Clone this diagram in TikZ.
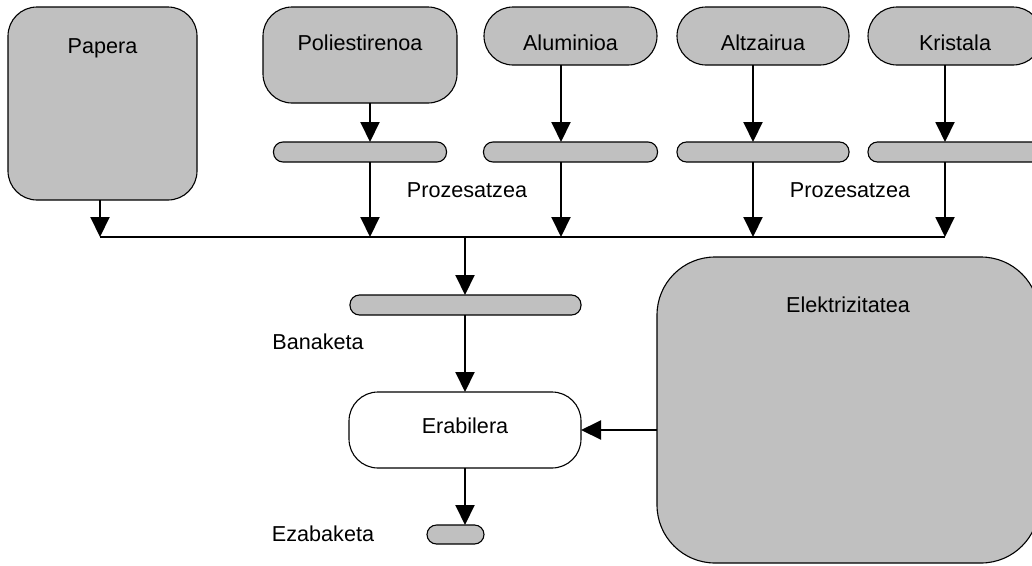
\documentclass[tikz,border=0pt]{standalone}
\usepackage{fontspec}
\setmainfont{Liberation Sans}
\usetikzlibrary{arrows.meta}
\definecolor{boxgray}{RGB}{192,192,192}
\tikzset{
 box/.style={draw,fill=boxgray,line width=1.1pt,rounded corners=29pt,inner sep=0pt,outer sep=0pt},
 bar/.style={box,rounded corners=9.5pt,minimum height=20},
 lbl/.style={anchor=base,yshift=-#1,inner sep=0pt}, lbl/.default=43pt,
 arr/.style={line width=2pt,-{Triangle[length=20pt,width=19pt]}},
 bus/.style={line width=2pt}
}
\begin{document}
\begin{tikzpicture}[x=1pt,y=-1pt,font=\fontsize{21.6}{26}\selectfont]
 \clip (0,0) rectangle (1032,565);
 \node[box,minimum width=189,minimum height=193,label={[lbl=46pt]north:Papera}] (papera) at (102.5,103.5) {};
 \coordinate (papera-in) at (100,237);
 \draw[arr] (papera-in |- papera.south) -- (papera-in);
 \foreach \n/\t/\x/\y/\w/\h/\bw/\a in {poli/Poliestirenoa/360/55/194/96/173/370,alum/Aluminioa/570.5/36/173/58/174/561,altz/Altzairua/763/36/172/58/172/753,kris/Kristala/955/36/174/58/174/945}{
  \node[box,minimum width=\w,minimum height=\h,label={[lbl]north:\t}] (\n) at (\x,\y) {};
  \node[bar,minimum width=\bw] (\n-bar) at (\x,152) {};
  \coordinate (\n-in) at (\a,237);
  \draw[arr] (\n-in |- \n.south) -- (\n-in |- \n-bar.north);
  \draw[arr] (\n-in |- \n-bar.south) -- (\n-in);
 }
 \node[anchor=base] (proz1) at (467,197) {Prozesatzea};
 \node[anchor=base] (proz2) at (850,197) {Prozesatzea};
 \draw[bus] (papera-in) -- (kris-in);
 \coordinate (mid) at (465,237);
 \node[bar,minimum width=231] (banak) at (465.5,305) {};
 \node[anchor=base] (banak-t) at (318,349) {Banaketa};
 \node[box,fill=white,minimum width=232,minimum height=76,label={[lbl=41pt]north:Erabilera}] (erab) at (465,430) {};
 \node[bar,minimum width=57,minimum height=19] (ezab) at (455.5,534.5) {};
 \node[anchor=base] (ezab-t) at (323,541) {Ezabaketa};
 \node[box,rounded corners=58pt,minimum width=382,minimum height=306,label={[lbl=55pt]north:Elektrizitatea}] (elek) at (848,410) {};
 \draw[arr] (mid) -- (mid |- banak.north);
 \draw[arr] (mid |- banak.south) -- (mid |- erab.north);
 \draw[arr] (mid |- erab.south) -- (mid |- ezab.north);
 \draw[arr] (elek.west |- erab.east) -- (erab.east);
\end{tikzpicture}
\end{document}
